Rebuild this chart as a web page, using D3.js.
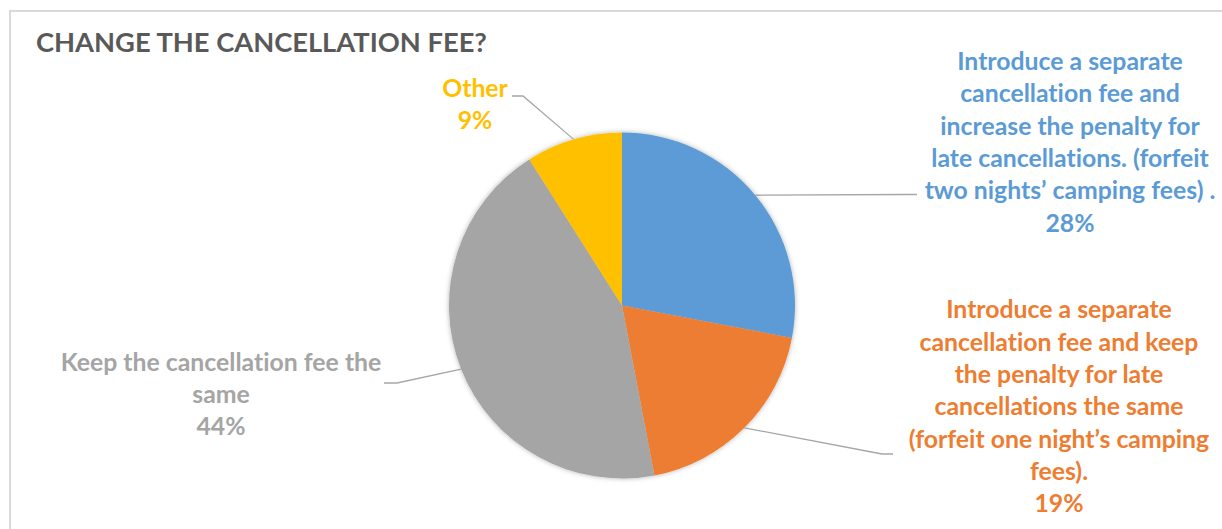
<!DOCTYPE html>
<html>
<head>
<meta charset="utf-8">
<script src="https://cdn.jsdelivr.net/npm/d3@7"></script>
<style>
  html, body { margin: 0; padding: 0; background: #ffffff; }
  svg { display: block; }
  text { font-family: Lato, "Open Sans", sans-serif; font-weight: 700; font-variant-ligatures: none; }
</style>
</head>
<body>
<svg id="chart" width="1222" height="529"></svg>
<script>
// ---- data ----
const title = "CHANGE THE CANCELLATION FEE?";
const categories = [
  "Introduce a separate cancellation fee and increase the penalty for late cancellations. (forfeit two nights’ camping fees) .",
  "Introduce a separate cancellation fee and keep the penalty for late cancellations the same (forfeit one night’s camping fees).",
  "Keep the cancellation fee the same",
  "Other"
];
const values = [28, 19, 44, 9];
// wrapped label text for each category
const labelLines = [
  ["Introduce a separate", "cancellation fee and", "increase the penalty for", "late cancellations. (forfeit", "two nights’ camping fees) ."],
  ["Introduce a separate", "cancellation fee and keep", "the penalty for late", "cancellations the same", "(forfeit one night’s camping", "fees)."],
  ["Keep the cancellation fee the", "same"],
  ["Other"]
];

// ---- drawing ----
const W = 1222, H = 529;
const cx = 622, cy = 305.5, R = 173;
const palette = ["#5B9BD5", "#ED7D31", "#A5A5A5", "#FFC000"];
const color = d3.scaleOrdinal().domain(d3.range(categories.length)).range(palette);

const svg = d3.select("#chart");

// chart frame
svg.append("rect")
  .attr("x", 10).attr("y", 11)
  .attr("width", W + 20).attr("height", H + 20)
  .attr("fill", "none")
  .attr("stroke", "#d9d9d9")
  .attr("stroke-width", 2);

svg.append("text")
  .attr("x", 36).attr("y", 52)
  .attr("fill", "#595959")
  .attr("font-size", 27.3)
  .text(title);

const defs = svg.append("defs");
const shadow = defs.append("filter").attr("id", "pieShadow")
  .attr("x", "-10%").attr("y", "-10%").attr("width", "120%").attr("height", "120%");
shadow.append("feDropShadow")
  .attr("dx", 0).attr("dy", 0).attr("stdDeviation", 2.5)
  .attr("flood-color", "#000").attr("flood-opacity", 0.3);

const pie = d3.pie().sort(null).value(d => d)(values);
const arc = d3.arc().innerRadius(0).outerRadius(R);
const edge = d3.arc().innerRadius(R).outerRadius(R);

const g = svg.append("g").attr("transform", `translate(${cx},${cy})`);
g.append("g").attr("filter", "url(#pieShadow)")
  .selectAll("path")
  .data(pie)
  .join("path")
  .attr("d", arc)
  .attr("fill", (d, i) => color(i));

// label placement: text centre x, first baseline y, leader elbow and end
const labelLayout = [
  { x: 1070, y: 70,    elbow: [905, 194.5], end: [917, 194.5] },
  { x: 1059, y: 318.3, elbow: [882, 454],   end: [893, 454] },
  { x: 221,  y: 370.7, elbow: [397, 383],   end: [384, 383] },
  { x: 475,  y: 96.7,  elbow: [523, 96],    end: [512, 96] }
];
const lineStep = 32.3;

// leader lines from slice edge to label
svg.append("g").selectAll("polyline")
  .data(pie)
  .join("polyline")
  .attr("points", (d, i) => {
    const p = edge.centroid(d);
    const L = labelLayout[i];
    return [[p[0] + cx, p[1] + cy], L.elbow, L.end].map(q => q.join(",")).join(" ");
  })
  .attr("fill", "none")
  .attr("stroke", "#a6a6a6")
  .attr("stroke-width", 1.3);

// data labels: category text + percentage
const labels = svg.append("g").selectAll("text")
  .data(pie)
  .join("text")
  .attr("text-anchor", "middle")
  .attr("font-size", 24.8)
  .attr("fill", (d, i) => color(i));

labels.each(function (d, i) {
  const L = labelLayout[i];
  const lines = labelLines[i].concat([`${d.data}%`]);
  d3.select(this).selectAll("tspan")
    .data(lines)
    .join("tspan")
    .attr("x", L.x)
    .attr("y", (t, k) => L.y + k * lineStep)
    .text(t => t);
});
</script>
</body>
</html>
